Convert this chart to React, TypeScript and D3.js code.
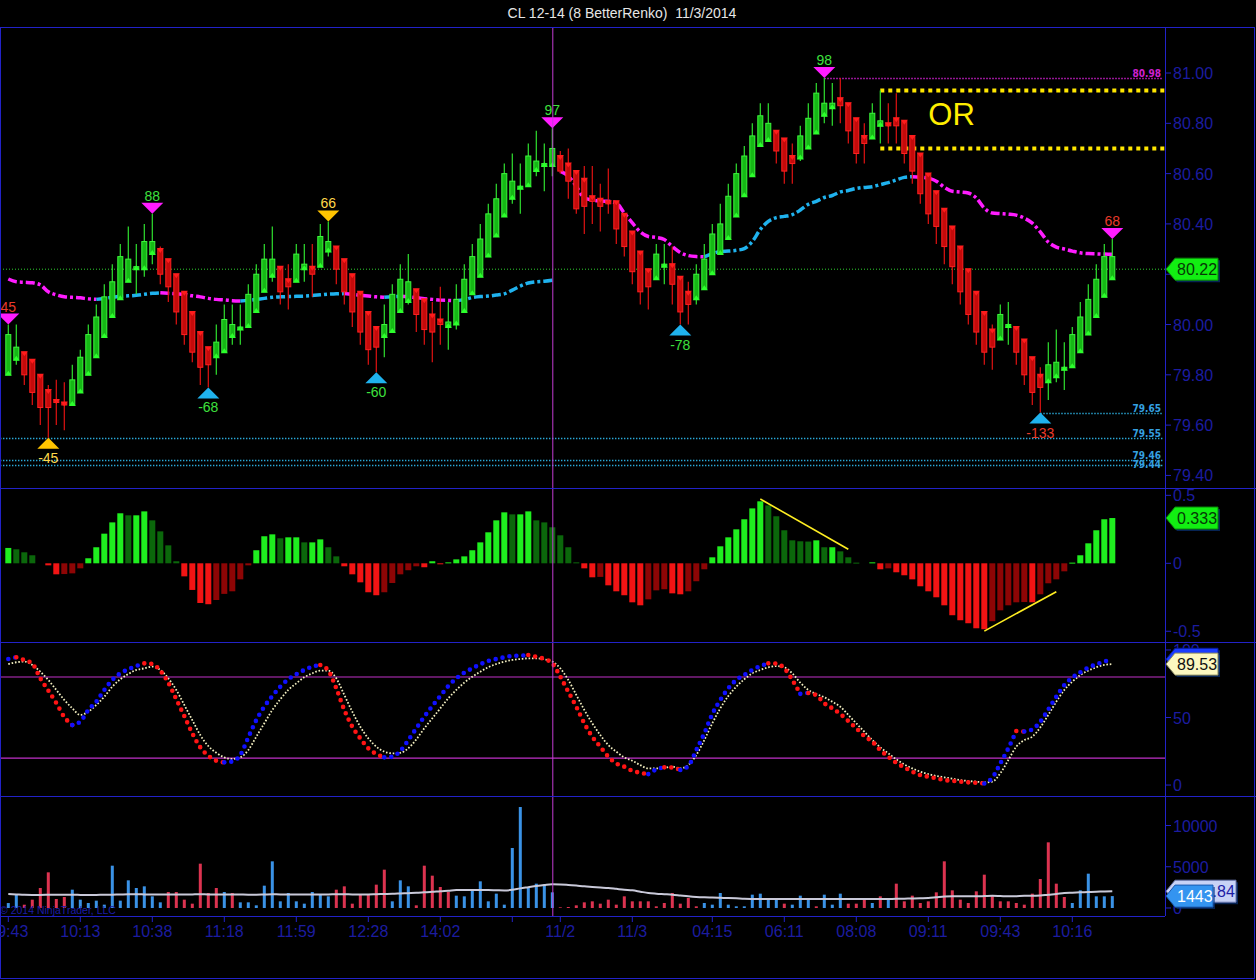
import React from 'react';
import * as d3 from 'd3';

// ---------------- DATA ----------------
const title = 'CL 12-14 (8 BetterRenko)  11/3/2014';

const open = [
  79.80,79.86,79.89,79.86,79.80,79.74,79.70,79.69,79.68,79.73,
  79.80,79.87,79.95,80.03,80.10,80.17,80.22,80.22,80.28,80.30,
  80.26,80.20,80.13,80.05,79.97,79.91,79.87,79.89,79.95,79.98,
  79.99,80.05,80.13,80.19,80.23,80.18,80.17,80.22,80.23,80.23,
  80.29,80.31,80.26,80.20,80.13,80.05,79.99,79.95,79.97,80.05,
  80.09,80.14,80.10,80.04,80.02,79.99,80.00,80.05,80.12,80.19,
  80.27,80.35,80.43,80.50,80.54,80.55,80.61,80.63,80.63,80.67,
  80.64,80.61,80.58,80.51,80.50,80.49,80.49,80.44,80.37,80.29,
  80.22,80.18,80.23,80.24,80.19,80.13,80.10,80.14,80.20,80.28,
  80.34,80.43,80.51,80.59,80.71,80.73,80.77,80.74,80.67,80.66,
  80.70,80.76,80.83,80.86,80.90,80.88,80.82,80.75,80.74,80.79,
  80.80,80.82,80.81,80.75,80.68,80.60,80.53,80.46,80.39,80.31,
  80.22,80.13,80.05,79.98,79.94,79.99,79.99,79.94,79.87,79.80,
  79.77,79.79,79.82,79.83,79.89,79.96,80.03,80.11,80.18,
];
const high = [
  80.00,80.00,79.89,79.86,79.80,79.76,79.78,79.77,79.84,79.90,
  80.00,80.08,80.16,80.24,80.32,80.39,80.32,80.40,80.44,80.31,
  80.26,80.20,80.13,80.05,79.97,79.91,80.00,80.08,80.08,80.08,
  80.16,80.24,80.32,80.39,80.23,80.24,80.32,80.32,80.32,80.40,
  80.41,80.31,80.26,80.20,80.13,80.05,79.99,80.08,80.16,80.24,
  80.28,80.14,80.10,80.09,80.15,80.09,80.16,80.24,80.32,80.40,
  80.48,80.56,80.64,80.68,80.64,80.72,80.77,80.72,80.78,80.69,
  80.70,80.61,80.63,80.63,80.56,80.62,80.49,80.44,80.37,80.29,
  80.22,80.32,80.32,80.31,80.19,80.17,80.24,80.32,80.40,80.48,
  80.56,80.64,80.71,80.80,80.88,80.88,80.77,80.74,80.72,80.79,
  80.88,80.96,80.98,80.96,80.98,80.88,80.82,80.80,80.88,80.93,
  80.88,80.92,80.81,80.75,80.68,80.60,80.53,80.46,80.39,80.31,
  80.22,80.13,80.05,80.00,80.08,80.09,79.99,79.94,79.87,79.83,
  79.93,79.98,79.93,79.99,80.09,80.16,80.24,80.32,80.34,
];
const low = [
  79.80,79.84,79.76,79.68,79.60,79.55,79.60,79.58,79.68,79.73,
  79.80,79.87,79.95,80.03,80.10,80.17,80.12,80.19,80.24,80.16,
  80.09,80.00,79.92,79.85,79.76,79.75,79.80,79.89,79.92,79.92,
  79.99,80.05,80.13,80.17,80.08,80.06,80.17,80.17,80.11,80.23,
  80.27,80.16,80.08,79.99,79.92,79.84,79.81,79.87,79.97,80.05,
  80.08,79.97,79.92,79.85,79.92,79.90,79.98,80.05,80.12,80.19,
  80.27,80.35,80.43,80.48,80.44,80.55,80.59,80.53,80.59,80.60,
  80.50,80.44,80.36,80.40,80.37,80.44,80.32,80.27,80.16,80.08,
  80.06,80.18,80.16,80.08,80.00,80.00,80.08,80.14,80.20,80.28,
  80.34,80.43,80.51,80.59,80.71,80.73,80.64,80.56,80.56,80.65,
  80.70,80.76,80.80,80.79,80.80,80.72,80.64,80.64,80.74,80.72,
  80.72,80.72,80.64,80.56,80.48,80.40,80.32,80.24,80.16,80.08,
  80.00,79.92,79.84,79.82,79.94,79.92,79.84,79.76,79.68,79.65,
  79.70,79.77,79.74,79.83,79.89,79.96,80.03,80.11,80.18,
];
const close = [
  79.96,79.91,79.80,79.73,79.67,79.67,79.69,79.68,79.78,79.87,
  79.96,80.03,80.11,80.17,80.27,80.26,80.23,80.33,80.33,80.20,
  80.15,80.05,79.96,79.89,79.83,79.84,79.93,80.02,80.00,79.99,
  80.12,80.20,80.26,80.26,80.13,80.15,80.28,80.24,80.20,80.35,
  80.33,80.22,80.13,80.05,79.97,79.90,79.91,80.00,80.12,80.18,
  80.17,80.04,79.98,79.97,80.00,80.01,80.10,80.18,80.27,80.34,
  80.44,80.50,80.60,80.57,80.55,80.67,80.65,80.64,80.70,80.61,
  80.57,80.46,80.47,80.49,80.47,80.48,80.38,80.31,80.21,80.13,
  80.15,80.28,80.24,80.16,80.05,80.08,80.20,80.26,80.36,80.40,
  80.51,80.60,80.67,80.75,80.83,80.80,80.69,80.61,80.64,80.75,
  80.82,80.92,80.88,80.88,80.87,80.77,80.68,80.72,80.84,80.81,
  80.79,80.79,80.68,80.61,80.52,80.44,80.39,80.31,80.23,80.13,
  80.04,79.97,79.89,79.91,80.04,80.00,79.89,79.80,79.73,79.75,
  79.84,79.85,79.83,79.96,80.03,80.10,80.18,80.27,80.27,
];

// moving average (resets at the 11/2 session, bar 69)
const sessionStart = 69;
const ma = [
  80.181,80.170,80.168,80.166,80.158,80.130,80.118,80.110,80.108,80.106,
  80.102,80.100,80.104,80.108,80.112,80.114,80.116,80.120,80.124,80.126,
  80.124,80.122,80.120,80.114,80.110,80.104,80.100,80.098,80.095,80.094,
  80.096,80.100,80.104,80.108,80.110,80.111,80.112,80.113,80.115,80.118,
  80.121,80.122,80.123,80.120,80.116,80.113,80.110,80.108,80.110,80.112,
  80.110,80.107,80.103,80.100,80.097,80.096,80.095,80.099,80.107,80.111,
  80.113,80.117,80.122,80.137,80.153,80.165,80.170,80.172,80.176,80.610,
  80.590,80.550,80.503,80.495,80.491,80.490,80.483,80.443,80.404,80.368,
  80.350,80.346,80.338,80.310,80.286,80.274,80.270,80.269,80.282,80.290,
  80.292,80.295,80.302,80.330,80.378,80.410,80.425,80.430,80.437,80.455,
  80.478,80.490,80.505,80.513,80.527,80.533,80.541,80.545,80.548,80.556,
  80.564,80.575,80.585,80.588,80.586,80.582,80.570,80.546,80.530,80.527,
  80.523,80.503,80.463,80.443,80.441,80.439,80.435,80.423,80.403,80.368,
  80.328,80.308,80.300,80.292,80.285,80.282,80.281,80.280,80.279,
];

const hist = [
  0.113,0.103,0.081,0.059,0,-0.015,-0.081,-0.079,-0.074,-0.037,
  0.037,0.118,0.218,0.301,0.368,0.353,0.353,0.382,0.316,0.235,
  0.132,0.015,-0.096,-0.196,-0.292,-0.301,-0.270,-0.225,-0.206,-0.118,
  -0.015,0.096,0.199,0.213,0.184,0.191,0.191,0.154,0.154,0.176,
  0.118,0.051,-0.022,-0.081,-0.140,-0.213,-0.235,-0.213,-0.145,-0.081,
  -0.051,-0.022,-0.029,0.015,-0.007,0.007,0.029,0.051,0.096,0.154,
  0.228,0.316,0.375,0.360,0.360,0.382,0.316,0.301,0.265,0.206,
  0.118,0.007,-0.037,-0.103,-0.100,-0.162,-0.206,-0.235,-0.287,-0.309,
  -0.265,-0.199,-0.191,-0.221,-0.228,-0.206,-0.132,-0.044,0.044,0.125,
  0.191,0.250,0.324,0.404,0.456,0.426,0.346,0.243,0.169,0.162,
  0.160,0.169,0.118,0.118,0.088,0.044,0.005,0,0.007,-0.044,
  -0.037,-0.066,-0.088,-0.118,-0.169,-0.206,-0.250,-0.309,-0.382,-0.419,
  -0.441,-0.478,-0.485,-0.426,-0.346,-0.309,-0.287,-0.285,-0.287,-0.228,
  -0.147,-0.118,-0.059,0.005,0.059,0.147,0.243,0.324,0.333,
];

const stochK = [
  93.3,94.6,92.6,90.0,79.0,70.0,60.7,50.4,44.4,46.9,
  55.6,61.7,70.4,77.8,82.7,85.7,88.1,90.1,89.6,84.7,
  75.8,63.5,51.1,38.3,27.9,21.7,18.0,16.8,17.5,22.2,
  35.3,48.1,58.0,65.9,72.8,78.3,82.0,85.2,87.7,88.9,
  84.7,71.6,55.6,43.2,34.6,27.2,23.0,20.5,21.0,25.2,
  33.3,42.0,50.6,58.5,65.9,73.3,79.0,83.2,86.4,89.4,
  91.9,93.3,94.6,95.6,95.8,96.3,95.0,93.3,90.1,80.2,
  69.1,58.0,45.7,35.8,28.4,21.0,16.0,13.6,10.6,9.1,
  8.1,11.6,13.1,13.0,11.1,14.1,25.9,38.3,52.6,63.0,
  71.6,77.8,81.5,85.2,88.1,90.1,90.0,86.4,77.8,67.5,
  68.2,66.5,60.5,56.8,52.6,47.4,42.0,36.3,32.1,25.9,
  21.0,16.5,13.1,9.9,7.4,6.2,5.0,3.7,3.2,2.5,
  2.0,1.7,1.2,5.4,16.0,27.2,40.0,39.6,41.2,46.9,
  56.0,65.4,74.0,79.5,83.5,86.9,89.4,91.4,93.1,
];
const stochD = [
  89.6,90.9,91.4,88.9,83.9,77.8,70.4,63.0,56.8,51.9,
  54.3,59.3,65.4,72.8,78.3,82.2,85.2,86.4,87.7,85.2,
  79.0,70.4,59.3,48.1,37.0,28.9,23.9,20.5,19.3,20.5,
  25.9,35.8,45.7,55.6,63.5,70.4,75.3,79.8,82.7,84.7,
  84.7,79.0,66.7,54.3,43.2,34.6,28.4,24.7,23.5,23.9,
  27.2,33.8,42.0,49.4,56.8,64.2,70.4,75.8,80.2,83.9,
  87.2,89.6,91.4,92.6,93.3,93.8,93.8,93.1,91.4,86.4,
  77.8,66.7,55.6,45.7,37.0,29.6,24.7,20.5,18.0,14.8,
  12.3,12.3,12.8,13.6,12.3,14.8,22.2,33.3,45.7,56.8,
  65.9,72.8,78.3,82.7,85.2,87.2,88.1,87.2,82.7,75.8,
  70.4,67.4,65.0,61.7,58.0,51.9,45.7,39.5,33.3,27.9,
  23.5,19.0,15.3,12.3,9.9,8.1,6.7,5.7,4.7,3.7,
  3.0,2.5,2.0,2.5,8.7,18.5,28.4,33.3,35.8,42.7,
  51.9,61.7,70.4,76.5,81.5,84.7,87.2,88.9,89.53,
];
const stochLevels = [80, 20];

const volume = [
  600,1616,400,1010,2424,4323,1090,1333,2222,1010,
  606,889,404,5130,889,3353,2424,2626,1414,687,
  1939,1939,1010,525,5373,1818,2424,1939,1818,687,
  687,323,2707,5656,808,1818,808,525,1939,1616,
  1414,2222,2626,525,1616,1616,2828,4646,808,3353,
  2626,323,5130,3919,2545,1939,1495,1414,2141,3232,
  808,1737,404,7272,12241,2424,2949,2828,1899,81,
  121,323,687,808,525,1010,404,1414,808,808,
  808,202,606,1818,525,1212,202,606,404,1818,
  404,202,202,1616,1737,1212,1212,525,404,1495,
  1010,202,1616,404,1737,525,525,1212,606,1414,
  1212,2949,808,1495,606,808,1899,5656,2141,1010,
  606,2020,4040,1495,808,808,606,404,1737,3515,
  7959,2949,1333,606,2141,4161,1414,1414,1443,
];
const volUp = [
  1,1,0,0,0,0,0,0,1,1,
  1,1,1,1,1,1,1,1,1,1,
  0,0,0,0,0,0,0,1,0,1,
  1,1,1,1,1,1,1,1,1,1,
  1,0,0,0,0,0,0,0,1,1,
  1,0,0,0,0,0,1,1,1,1,
  1,1,1,1,1,1,1,1,1,0,
  0,0,0,0,0,0,0,0,0,0,
  0,0,0,0,0,0,0,1,1,1,
  1,1,1,1,1,1,1,0,1,1,
  1,0,1,1,1,0,0,0,1,0,
  1,0,0,0,0,0,0,0,0,0,
  0,0,0,0,0,0,0,0,0,0,
  0,0,0,1,1,1,1,1,1,
];
const volAvg = [
  1700,1650,1600,1580,1580,1600,1620,1600,1600,1590,
  1580,1590,1600,1620,1640,1660,1660,1650,1640,1630,
  1630,1640,1640,1650,1660,1650,1650,1640,1640,1630,
  1620,1620,1640,1660,1650,1650,1640,1640,1640,1650,
  1650,1660,1660,1650,1650,1650,1680,1700,1720,1760,
  1800,1840,1900,1960,2040,2100,2180,2190,2190,2180,
  2180,2150,2120,2200,2380,2520,2660,2780,2870,2860,
  2800,2720,2630,2560,2490,2420,2320,2220,2140,1980,
  1820,1740,1680,1620,1520,1420,1340,1290,1260,1230,
  1210,1170,1120,1100,1090,1085,1095,1100,1090,1080,
  1085,1095,1100,1090,1085,1090,1100,1095,1090,1095,
  1100,1110,1130,1150,1180,1210,1300,1390,1414,1420,
  1425,1418,1440,1470,1445,1414,1430,1470,1475,1520,
  1616,1700,1818,1860,1899,1940,1980,2000,2034.84,
];

// swing markers
const swingBars = [0, 5, 18, 25, 40, 46, 68, 84, 102, 129, 138];
const swingTexts = ['45', '-45', '88', '-68', '66', '-60', '97', '-78', '98', '-133', '68'];
const swingSide = ['hi', 'lo', 'hi', 'lo', 'hi', 'lo', 'hi', 'lo', 'hi', 'lo', 'hi'];
const swingTri = ['magenta', 'gold', 'magenta', 'cyan', 'gold', 'cyan', 'magenta', 'cyan', 'magenta', 'cyan', 'magenta'];
const swingTone = ['red', 'gold', 'green', 'green', 'gold', 'green', 'green', 'green', 'green', 'red', 'red'];

// price levels
const levelPrices = [80.98, 79.65, 79.55, 79.46, 79.44];
const levelStartBar = [102, 129, null, null, null];
const levelLabels = ['80.98', '79.65', '79.55', '79.46', '79.44'];
const levelTone = ['magenta', 'cyan', 'cyan', 'cyan', 'cyan'];
const lastPrice = 80.22;
const orHigh = 80.93;
const orLow = 80.70;
const orStartBar = 109;
const orLabelBar = 115;

// histogram divergence lines [bar, value]
const divLines = [
  [[94, 0.473], [105, 0.103]],
  [[122, -0.499], [131, -0.209]],
];

// axes
const priceTicks = [81.0, 80.8, 80.6, 80.4, 80.2, 80.0, 79.8, 79.6, 79.4];
const histTicks = [0.5, 0, -0.5];
const histTickLabels = ['0.5', '0', '-0.5'];
const stochTicks = [100, 50, 0];
const volTicks = [10000, 5000, 0];
const xTickBars = [0, 9, 18, 27, 36, 45, 54, 63, 69, 78, 88, 97, 106, 115, 124, 133];
const xTickLabels = ['09:43', '10:13', '10:38', '11:18', '11:59', '12:28', '14:02', '', '11/2', '11/3', '04:15', '06:11', '08:08', '09:11', '09:43', '10:16'];
const sessionBar = 68;

// ---------------- STYLE ----------------
const BLUE = '#2222c8';
const AXIS_TXT = '#1c1ca0';
const FONT = 'Liberation Sans, Arial, sans-serif';
const C = {
  magenta: '#ff1cff',
  cyan: '#1fb2ee',
  gold: '#ffc400',
  red: '#f03030',
  green: '#3ee03e',
  lvlCyan: '#2aa8d8',
};
const W = 1256;
const H = 980;
const AX = 1165;

function runs(vals: number[], a: number, b: number, upC: string, dnC: string) {
  const out: { color: string; idx: number[] }[] = [];
  for (let i = a; i < b; i++) {
    const c = vals[i + 1] > vals[i] ? upC : dnC;
    const last = out[out.length - 1];
    if (last && last.color === c) last.idx.push(i + 1);
    else out.push({ color: c, idx: [i, i + 1] });
  }
  return out;
}

function Tag({ y, w, fill, stroke, text, color }: any) {
  const x0 = AX + 1;
  const h = 11;
  const pts = [[x0, y], [x0 + 9, y - h], [x0 + w, y - h], [x0 + w, y + h], [x0 + 9, y + h]];
  const sh = pts.map(p => [p[0] + 2, p[1] + 2]);
  return (
    <g>
      <polygon points={sh.map(p => p.join(',')).join(' ')} fill="#0a3a8a" opacity={0.6} />
      <polygon points={pts.map(p => p.join(',')).join(' ')} fill={fill} stroke={stroke} strokeWidth={1} />
      <text x={x0 + 11} y={y + 6} fontSize={16} fontFamily={FONT} fill={color}>{text}</text>
    </g>
  );
}

export default function App() {
  const n = close.length;
  const x = d3.scaleLinear().domain([0, n - 1]).range([8.3, 1112.3]);
  const yP = d3.scaleLinear().domain([79.35, 81.179]).range([488, 28]);
  const yH = d3.scaleLinear().domain([-0.579, 0.554]).range([642, 488]);
  const yS = d3.scaleLinear().domain([-8.1, 105.9]).range([796, 642]);
  const yV = d3.scaleLinear().domain([-970, 13576]).range([916, 796]);

  const maRuns = [
    ...runs(ma, 0, sessionStart - 1, C.cyan, C.magenta),
    ...runs(ma, sessionStart, n - 1, C.cyan, C.magenta),
  ];
  const maLine = d3.line<number>().x(i => x(i)).y(i => yP(ma[i])).curve(d3.curveMonotoneX);

  const kRuns = runs(stochK, 0, n - 1, '#1010ff', '#ff1414');
  const kLine = d3.line<number>().x(i => x(i)).y(i => yS(stochK[i])).curve(d3.curveMonotoneX);
  const dLine = d3.line<number>().x((_, i) => x(i)).y(d => yS(d)).curve(d3.curveMonotoneX);
  const avgLine = d3.line<number>().x((_, i) => x(i)).y(d => yV(d)).curve(d3.curveMonotoneX);

  const histColor = (i: number) => {
    const v = hist[i];
    const p = i > 0 ? hist[i - 1] : -Infinity;
    if (v >= 0) return v >= p ? '#1fee1f' : '#0b670b';
    return v <= (i > 0 ? hist[i - 1] : Infinity) ? '#f21414' : '#8e0505';
  };

  return (
    <div style={{ position: 'absolute', left: 0, top: 0, width: W, height: H, background: '#000' }}>
      <svg width={W} height={H} style={{ display: 'block' }}>
        <defs>
          <clipPath id="cMain"><rect x={1} y={28} width={AX - 1} height={460} /></clipPath>
          <clipPath id="cHist"><rect x={1} y={489} width={AX - 1} height={153} /></clipPath>
          <clipPath id="cSto"><rect x={1} y={643} width={AX - 1} height={153} /></clipPath>
          <clipPath id="cVol"><rect x={1} y={797} width={AX - 1} height={119} /></clipPath>
        </defs>
        <rect width={W} height={H} fill="#000" />

        {/* title */}
        <text x={622} y={18} textAnchor="middle" fontSize={14} fontFamily={FONT} fill="#e6e6e6" style={{ whiteSpace: 'pre' }}>{title}</text>

        {/* ===== MAIN PANEL ===== */}
        <g clipPath="url(#cMain)">
          <line x1={0} x2={AX} y1={yP(lastPrice)} y2={yP(lastPrice)} stroke="#2ed02e" strokeWidth={1} strokeDasharray="1 2" />
          {levelPrices.map((p, k) => (
            <line key={'lv' + k} x1={levelStartBar[k] == null ? 0 : x(levelStartBar[k] as number)} x2={AX - 2} y1={Math.round(yP(p)) + 0.5} y2={Math.round(yP(p)) + 0.5}
              stroke={levelTone[k] === 'magenta' ? '#d020d0' : C.lvlCyan} strokeWidth={1.4} strokeDasharray="1.4 1.6" />
          ))}
          {levelPrices.map((p, k) => (
            <text key={'lt' + k} x={1161} y={yP(p) - 1 + (k === 4 ? 4 : 0)} textAnchor="end" fontSize={10} fontWeight="bold"
              fontFamily="DejaVu Sans Condensed, DejaVu Sans, sans-serif" fill={levelTone[k] === 'magenta' ? '#d020d0' : '#35a0e0'}>{levelLabels[k]}</text>
          ))}
          {[orHigh, orLow].map((p, k) => (
            <line key={'or' + k} x1={x(orStartBar)} x2={AX} y1={yP(p)} y2={yP(p)} stroke="#ffe600" strokeWidth={4} strokeDasharray="4 4" />
          ))}
          <text x={x(orLabelBar)} y={(yP(orHigh) + yP(orLow)) / 2 + 5} fontSize={31} fontFamily={FONT} fill="#ffee00">OR</text>

          {maRuns.map((r, k) => (
            <path key={'ma' + k} d={maLine(r.idx) || ''} fill="none" stroke={r.color} strokeWidth={3.5} strokeDasharray="9 3 3 3" />
          ))}

          {close.map((c, i) => {
            const up = c >= open[i];
            const cx = x(i);
            const yo = yP(open[i]);
            const yc = yP(c);
            const top = Math.min(yo, yc);
            const bh = Math.max(1.5, Math.abs(yo - yc));
            return (
              <g key={'c' + i}>
                <line x1={cx} x2={cx} y1={yP(high[i])} y2={yP(low[i])} stroke={up ? '#2fe02f' : '#e01212'} strokeWidth={1.2} />
                <rect x={cx - 2.5} y={top} width={5} height={bh} fill={up ? '#15b815' : '#c40a0a'} stroke={up ? '#3cf53c' : '#ff2020'} strokeWidth={1} />
                {up ? (
                  <polygon points={`${cx - 3.5},${yo + 1} ${cx + 3.5},${yo + 1} ${cx},${yo - 4}`} fill="#2cff2c" />
                ) : (
                  <polygon points={`${cx - 3.5},${yo - 1} ${cx + 3.5},${yo - 1} ${cx},${yo + 4}`} fill="#ff1c1c" />
                )}
              </g>
            );
          })}

          {swingBars.map((b, k) => {
            const cx = x(b);
            const hi = swingSide[k] === 'hi';
            const yy = hi ? yP(high[b]) : yP(low[b]);
            const pts = hi
              ? `${cx - 11},${yy - 11} ${cx + 11},${yy - 11} ${cx},${yy}`
              : `${cx - 11},${yy + 11} ${cx + 11},${yy + 11} ${cx},${yy}`;
            return (
              <g key={'sw' + k}>
                <polygon points={pts} fill={(C as any)[swingTri[k]]} />
                <text x={cx} y={hi ? yy - 13 : yy + 25} textAnchor="middle" fontSize={14} fontFamily={FONT}
                  fill={swingTone[k] === 'red' ? '#e83a2a' : swingTone[k] === 'gold' ? '#ffd84a' : C.green}>{swingTexts[k]}</text>
              </g>
            );
          })}
        </g>

        {/* ===== HISTOGRAM PANEL ===== */}
        <g clipPath="url(#cHist)">
          {hist.map((v, i) => (
            v === 0 ? null :
              <rect key={'h' + i} x={x(i) - 3} width={6} y={Math.min(yH(v), yH(0))} height={Math.max(1, Math.abs(yH(v) - yH(0)))} fill={histColor(i)} />
          ))}
          {divLines.map((ln, k) => (
            <line key={'dv' + k} x1={x(ln[0][0])} y1={yH(ln[0][1])} x2={x(ln[1][0])} y2={yH(ln[1][1])} stroke="#ffee22" strokeWidth={1.6} />
          ))}
        </g>

        {/* ===== STOCHASTIC PANEL ===== */}
        <g clipPath="url(#cSto)">
          {stochLevels.map((lv, k) => (
            <line key={'sl' + k} x1={0} x2={AX} y1={yS(lv)} y2={yS(lv)} stroke="#c030c8" strokeWidth={1.2} />
          ))}
          <path d={dLine(stochD) || ''} fill="none" stroke="#f2eec0" strokeWidth={1.8} strokeDasharray="1.6 1.8" />
          {kRuns.map((r, k) => (
            <path key={'k' + k} d={kLine(r.idx) || ''} fill="none" stroke={r.color} strokeWidth={4.6} strokeDasharray="0 7" strokeLinecap="round" />
          ))}
        </g>

        {/* ===== VOLUME PANEL ===== */}
        <g clipPath="url(#cVol)">
          {volume.map((v, i) => (
            <rect key={'v' + i} x={x(i) - 1.5} width={3} y={yV(v)} height={yV(0) - yV(v)} fill={volUp[i] ? '#3a92e6' : '#dc3350'} />
          ))}
          <path d={avgLine(volAvg) || ''} fill="none" stroke="#c9c9d9" strokeWidth={2} />
          <text x={0} y={914} fontSize={10.5} fontFamily={FONT} fill="#1c1ca6">© 2014 NinjaTrader, LLC</text>
        </g>

        <line x1={x(sessionBar) + 0.5} x2={x(sessionBar) + 0.5} y1={28} y2={916} stroke="#c43cd4" strokeWidth={1} />

        {/* frames */}
        <rect x={0.5} y={27.5} width={W - 2} height={H - 29} fill="none" stroke={BLUE} strokeWidth={1} />
        {[488.5, 642.5, 796.5].map((yy, k) => (
          <line key={'sep' + k} x1={0} x2={W} y1={yy} y2={yy} stroke={BLUE} strokeWidth={1} />
        ))}
        <line x1={0} x2={AX} y1={916.5} y2={916.5} stroke={BLUE} strokeWidth={1} />
        <line x1={AX + 0.5} x2={AX + 0.5} y1={28} y2={916} stroke={BLUE} strokeWidth={1} />

        {/* right axes */}
        {priceTicks.map((t, k) => (
          <g key={'pt' + k}>
            <line x1={AX} x2={AX + 6} y1={yP(t)} y2={yP(t)} stroke={BLUE} />
            <text x={AX + 8} y={yP(t) + 6} fontSize={16} fontFamily={FONT} fill={AXIS_TXT}>{t.toFixed(2)}</text>
          </g>
        ))}
        {histTicks.map((t, k) => (
          <g key={'ht' + k}>
            <line x1={AX} x2={AX + 6} y1={yH(t)} y2={yH(t)} stroke={BLUE} />
            <text x={AX + 8} y={yH(t) + 6} fontSize={16} fontFamily={FONT} fill={AXIS_TXT}>{histTickLabels[k]}</text>
          </g>
        ))}
        {stochTicks.map((t, k) => (
          <g key={'st' + k}>
            <line x1={AX} x2={AX + 6} y1={yS(t)} y2={yS(t)} stroke={BLUE} />
            <text x={AX + 8} y={yS(t) + 6} fontSize={16} fontFamily={FONT} fill={AXIS_TXT}>{String(t)}</text>
          </g>
        ))}
        {volTicks.map((t, k) => (
          <g key={'vt' + k}>
            <line x1={AX} x2={AX + 6} y1={yV(t)} y2={yV(t)} stroke={BLUE} />
            <text x={AX + 8} y={yV(t) + 6} fontSize={16} fontFamily={FONT} fill={AXIS_TXT}>{String(t)}</text>
          </g>
        ))}

        {/* x axis */}
        {xTickBars.map((b, k) => (
          <g key={'xt' + k}>
            <line x1={x(b)} x2={x(b)} y1={917} y2={922} stroke={BLUE} />
            <text x={x(b)} y={937} textAnchor="middle" fontSize={16} fontFamily={FONT} fill={AXIS_TXT}>{xTickLabels[k]}</text>
          </g>
        ))}

        {/* value tags */}
        <Tag y={yP(lastPrice)} w={52} fill="#12ee12" stroke="#0a8a0a" text={lastPrice.toFixed(2)} color="#063806" />
        <Tag y={yH(hist[n - 1])} w={52} fill="#12ee12" stroke="#0a8a0a" text={hist[n - 1].toFixed(3)} color="#063806" />
        <Tag y={yS(stochK[n - 1])} w={52} fill="#1a3cff" stroke="#0a1a9a" text={stochK[n - 1].toFixed(2)} color="#ffffff" />
        <Tag y={yS(stochD[n - 1])} w={52} fill="#fcf8c0" stroke="#8a8a60" text={stochD[n - 1].toFixed(2)} color="#101010" />
        <Tag y={yV(volAvg[n - 1])} w={70} fill="#c8d2f6" stroke="#6a78b0" text={volAvg[n - 1].toFixed(2)} color="#1c1ca6" />
        <Tag y={yV(volume[n - 1])} w={47} fill="#3494f0" stroke="#1a5ab0" text={String(volume[n - 1])} color="#ffffff" />
      </svg>
    </div>
  );
}
